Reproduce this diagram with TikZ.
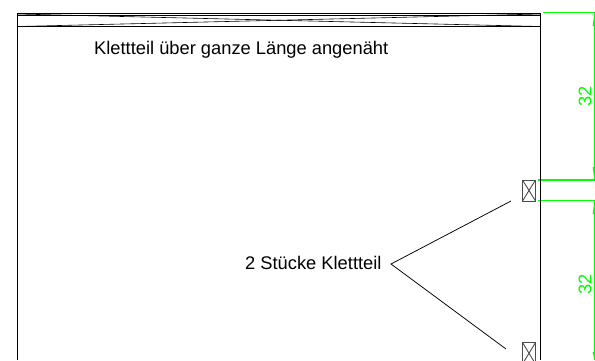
\documentclass[tikz,border=0pt]{standalone}
\usepackage{fontspec}
\setmainfont{Liberation Sans}
\definecolor{dimgreen}{RGB}{0,255,0}
\tikzset{
  blk/.style={draw=black,line width=0.8pt},
  thin blk/.style={draw=black,line width=0.6pt},
  dim/.style={draw=dimgreen,line width=1.1pt},
  dimtip/.style={fill=dimgreen,draw=none},
  lbl/.style={inner sep=0pt,font=\fontsize{18.3}{20}\selectfont,anchor=base west},
  dimlbl/.style={inner sep=0pt,text=dimgreen,font=\fontsize{18.3}{20}\selectfont,rotate=90},
  pad/.style={draw=black!70,line width=0.9pt}
}
\begin{document}
\begin{tikzpicture}[x=1pt,y=-1pt]
\useasboundingbox (0,0) rectangle (595,360);
\clip (0,0) rectangle (595,360);
% dimensions
\draw[dim] (543,12.8) -- (595,12.8);
\draw[dim] (538,180) -- (595,180);
\draw[dim] (538,200.6) -- (595,200.6);
\draw[dim] (594.3,12.8) -- (594.3,180);
\draw[dim] (594.3,200.6) -- (594.3,360);
\fill[dimtip] (594.5,13) -- (592.6,26) -- (595,26) -- cycle;
\fill[dimtip] (594.5,180) -- (592.6,167) -- (595,167) -- cycle;
\fill[dimtip] (594.5,201) -- (592.6,214) -- (595,214) -- cycle;
\fill[dimtip] (594.5,360) -- (592.6,352) -- (595,352) -- cycle;
\node[dimlbl] (d1) at (585,96.5) {32};
\node[dimlbl] (d2) at (585,284.5) {32};
% sheet outline
\draw[blk] (17.5,360) -- (17.5,13.5) -- (540.5,13.5) -- (540.5,360);
\draw[blk] (17.5,15) -- (540.5,15);
\draw[blk] (17.5,26.6) -- (540.5,26.6);
\draw[thin blk] (17.5,14) -- (540.5,26.5);
\draw[thin blk] (17.5,26.5) -- (540.5,14);
% labels
\node[lbl] (top) at (94,54) {Klettteil über ganze Länge angenäht};
\node[lbl] (two) at (245,269) {2 Stücke Klettteil};
% pads
\draw[pad] (522.5,180) rectangle (535.5,201);
\draw[pad] (522.5,180) -- (535.5,201) (535.5,180) -- (522.5,201);
\draw[pad] (522.5,342.5) rectangle (535.5,364);
\draw[pad] (522.5,342.5) -- (535.5,364) (535.5,342.5) -- (522.5,364);
% leader
\coordinate (apex) at (391,264);
\coordinate (upper) at (511,201);
\coordinate (lower) at (506,349);
\draw[thin blk,line width=0.75pt] (upper) -- (apex) -- (lower);
\end{tikzpicture}
\end{document}
